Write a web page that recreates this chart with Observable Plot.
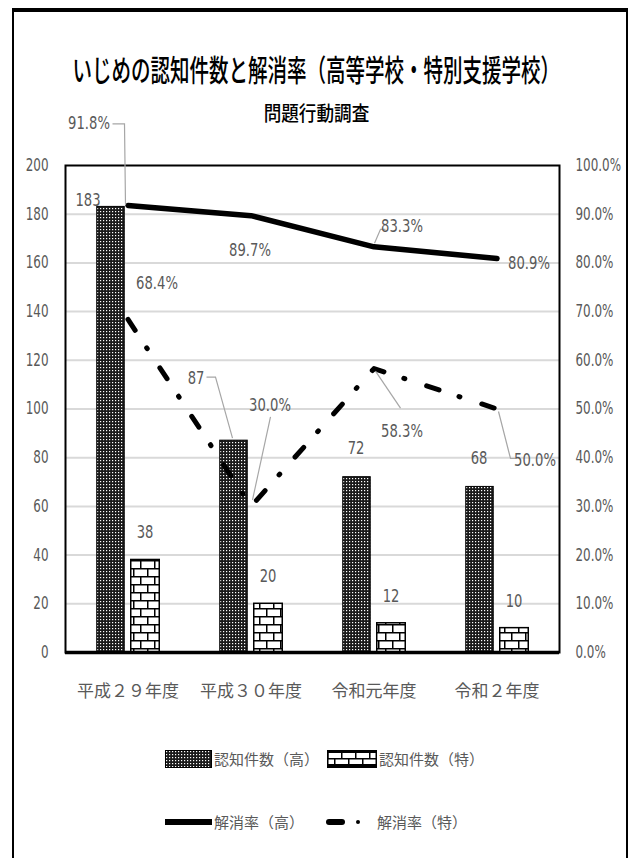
<!DOCTYPE html>
<html>
<head>
<meta charset="utf-8">
<script src="https://cdn.jsdelivr.net/npm/d3@7"></script>
<script src="https://cdn.jsdelivr.net/npm/@observablehq/plot@0.6"></script>
<style>
  html, body { margin: 0; padding: 0; background: #fff; }
  #page { position: relative; width: 633px; height: 858px; overflow: hidden; background: #fff; }
  #frame { position: absolute; left: 12px; top: 8px; width: 612px; height: 900px;
           border-top: 4px solid #000; border-left: 2px solid #000; border-right: 2px solid #000; }
  .cjk { font-family: "Noto Sans CJK JP", sans-serif; }
  #title { position: absolute; top: 46px; left: -200px; width: 1033px; text-align: center;
           font-size: 30px; font-weight: 500; color: #000; transform: scaleX(0.65); transform-origin: 516px 0; white-space: nowrap; }
  #subtitle { position: absolute; top: 98px; left: -200px; width: 1033px; text-align: center;
           font-size: 20px; font-weight: 500; color: #000; transform: scaleX(0.88); transform-origin: 516px 0; white-space: nowrap; }
  #chart { position: absolute; left: 0; top: 0; }
  .leg { position: absolute; font-size: 15px; color: #595959; white-space: nowrap; line-height: 1; }
  .sw { position: absolute; }
</style>
</head>
<body>
<svg width="0" height="0" style="position:absolute">
  <defs>
    <pattern id="patHigh" patternUnits="userSpaceOnUse" width="3" height="3">
      <rect width="3" height="3" fill="#1a1a1a"/>
      <rect x="1" y="1" width="1.2" height="1.2" fill="#ffffff"/>
    </pattern>
    <pattern id="patSpecial" patternUnits="userSpaceOnUse" width="14" height="16">
      <rect width="14" height="16" fill="#ffffff"/>
      <path d="M0,0.75H14M0,8.75H14M0.75,0V8.75M7.75,8.75V16" stroke="#000" stroke-width="1.5" fill="none"/>
    </pattern>
  </defs>
</svg>
<div id="page">
  <div id="frame"></div>
  <div id="title" class="cjk">いじめの認知件数と解消率（高等学校・特別支援学校）</div>
  <div id="subtitle" class="cjk">問題行動調査</div>
  <div id="chart"></div>
  <svg class="sw" style="left:165px;top:750px" width="47" height="18"><rect x="0.5" y="0.5" width="46" height="17" fill="url(#patHigh)" stroke="#000"/></svg>
  <div class="leg cjk" style="left:214px;top:751px">認知件数（高）</div>
  <svg class="sw" style="left:327px;top:750px" width="50" height="18"><rect x="0.75" y="0.75" width="48.5" height="16.5" fill="url(#patSpecial)" stroke="#000" stroke-width="1.5"/><rect x="0" y="0" width="50" height="3" fill="#000"/><rect x="0" y="14" width="50" height="4" fill="#000"/></svg>
  <div class="leg cjk" style="left:379px;top:751px">認知件数（特）</div>
  <svg class="sw" style="left:163px;top:815px" width="50" height="14"><line x1="2" y1="7" x2="49" y2="7" stroke="#000" stroke-width="6"/></svg>
  <div class="leg cjk" style="left:214px;top:814px">解消率（高）</div>
  <svg class="sw" style="left:325px;top:815px" width="40" height="14"><line x1="4" y1="7" x2="17" y2="7" stroke="#000" stroke-width="6" stroke-linecap="round"/><circle cx="33" cy="7" r="2" fill="#000"/></svg>
  <div class="leg cjk" style="left:377px;top:814px">解消率（特）</div>
</div>
<script>
// ---- data ----
const categories = ["平成２９年度", "平成３０年度", "令和元年度", "令和２年度"];
const countHigh = [183, 87, 72, 68];
const countSpecial = [38, 20, 12, 10];
const rateHigh = [91.8, 89.7, 83.3, 80.9];
const rateSpecial = [68.4, 30.0, 58.3, 50.0];
const leftTicks = [0, 20, 40, 60, 80, 100, 120, 140, 160, 180, 200];
const rightTickLabels = ["0.0%", "10.0%", "20.0%", "30.0%", "40.0%", "50.0%", "60.0%", "70.0%", "80.0%", "90.0%", "100.0%"];

// ---- label layout (pixel offsets from each value's anchor, style only) ----
const labelLayout = {
  countHigh:   [[-40, -6], [-55, -62], [-18, -29], [-18, -28]],
  countSpecial:[[17, -27], [17, -27], [17, -27], [17, -27]],
  rateHigh:    [[-39, -82], [-1, 35], [28, -20], [32, 5]],
  rateSpecial: [[29, -36], [19, -101], [28, 63], [38, 52]]
};
const leaderLayout = [
  {series: "rateHigh", i: 0, pts: [[-15, -81], [-3, -81], [-2, 0]]},
  {series: "countHigh", i: 1, pts: [[-44, -63], [-35, -63], [-18, -2]]},
  {series: "rateSpecial", i: 1, pts: [[20, -89], [2, -6]]},
  {series: "rateHigh", i: 2, pts: [[1, -3], [7, -17], [12, -17]]},
  {series: "rateSpecial", i: 2, pts: [[2, 3], [27, 40]]},
  {series: "rateSpecial", i: 3, pts: [[2, 3], [14, 50], [19, 50]]}
];

const NUM_FONT = "'DejaVu Sans Condensed','DejaVu Sans',sans-serif";
const CJK_FONT = "'Noto Sans CJK JP',sans-serif";
const GRAY = "#595959";

const rows = categories.map((c, i) => ({
  category: c,
  countHigh: countHigh[i],
  countSpecial: countSpecial[i],
  rateHigh: rateHigh[i],
  rateSpecial: rateSpecial[i]
}));
// rates are drawn on the left scale (100% = 200)
const toY = (series, v) => series.startsWith("rate") ? v * 2 : v;
const fmt = (series, v) => series.startsWith("rate") ? v.toFixed(1) + "%" : String(v);

const labelMarks = [];
for (const series of Object.keys(labelLayout)) {
  labelLayout[series].forEach(([dx, dy], i) => {
    labelMarks.push(Plot.text([rows[i]], {
      x: "category",
      y: d => toY(series, d[series]),
      text: d => fmt(series, d[series]),
      dx, dy,
      fill: GRAY,
      fontSize: 17,
      fontFamily: NUM_FONT
    }));
  });
}

const leaders = (index, scales) => {
  const sx = scales.x, sy = scales.y;
  const bw = typeof sx.bandwidth === "function" ? sx.bandwidth() : (sx.bandwidth || 0);
  const g = d3.create("svg:g").attr("fill", "none").attr("stroke", "#a6a6a6").attr("stroke-width", 1.2);
  for (const L of leaderLayout) {
    const r = rows[L.i];
    const cx = sx(r.category) + bw / 2;
    const cy = sy(toY(L.series, r[L.series]));
    g.append("polyline").attr("points", L.pts.map(([dx, dy]) => `${cx + dx},${cy + dy}`).join(" "));
  }
  return g.node();
};

const chart = Plot.plot({
  width: 633,
  height: 858,
  marginTop: 165,
  marginBottom: 206,
  marginLeft: 65,
  marginRight: 74,
  style: {background: "transparent", fontFamily: NUM_FONT, overflow: "visible"},
  x: {domain: categories, padding: 0, axis: null},
  y: {domain: [0, 200], axis: null},
  marks: [
    Plot.ruleY(leftTicks.filter(t => t > 0 && t < 200), {stroke: "#d9d9d9", strokeWidth: 2}),
    Plot.barY(rows, {x: "category", y: "countHigh", fill: "url(#patHigh)", stroke: "#000", strokeWidth: 1, insetLeft: 30.75, insetRight: 64.75}),
    Plot.barY(rows, {x: "category", y: "countSpecial", fill: "url(#patSpecial)", stroke: "#000", strokeWidth: 1.5, insetLeft: 64.75, insetRight: 29.75}),
    Plot.frame({stroke: "#000", strokeWidth: 2}),
    Plot.ruleY([0], {stroke: "#000", strokeWidth: 3.5}),
    Plot.line(rows, {x: "category", y: d => d.rateHigh * 2, stroke: "#000", strokeWidth: 5.5}),
    Plot.line(rows, {x: "category", y: d => d.rateSpecial * 2, stroke: "#000", strokeWidth: 5, strokeDasharray: "13,21,1,23", strokeLinecap: "round"}),
    Plot.axisY(leftTicks, {anchor: "left", tickSize: 0, tickPadding: 17, fontSize: 17, color: GRAY, label: null, fontFamily: NUM_FONT}),
    Plot.axisY(leftTicks, {anchor: "right", tickSize: 0, tickPadding: 16, fontSize: 17, color: GRAY, label: null, fontFamily: NUM_FONT,
      tickFormat: d => rightTickLabels[leftTicks.indexOf(d)]}),
    Plot.axisX({tickSize: 0, tickPadding: 32, fontSize: 17, color: GRAY, label: null, fontFamily: CJK_FONT}),
    leaders,
    ...labelMarks
  ]
});
document.getElementById("chart").appendChild(chart);

// condense the number glyphs (the reference uses a narrow face)
chart.querySelectorAll("text").forEach(t => {
  const s = t.textContent;
  if (!/^[0-9.%]+$/.test(s)) return;
  const isTick = t.closest('g[aria-label="y-axis tick label"]') !== null;
  const k = isTick ? 0.78 : 0.86;
  const len = t.getComputedTextLength();
  t.setAttribute("textLength", (len * k).toFixed(1));
  t.setAttribute("lengthAdjust", "spacingAndGlyphs");
});
</script>
</body>
</html>
